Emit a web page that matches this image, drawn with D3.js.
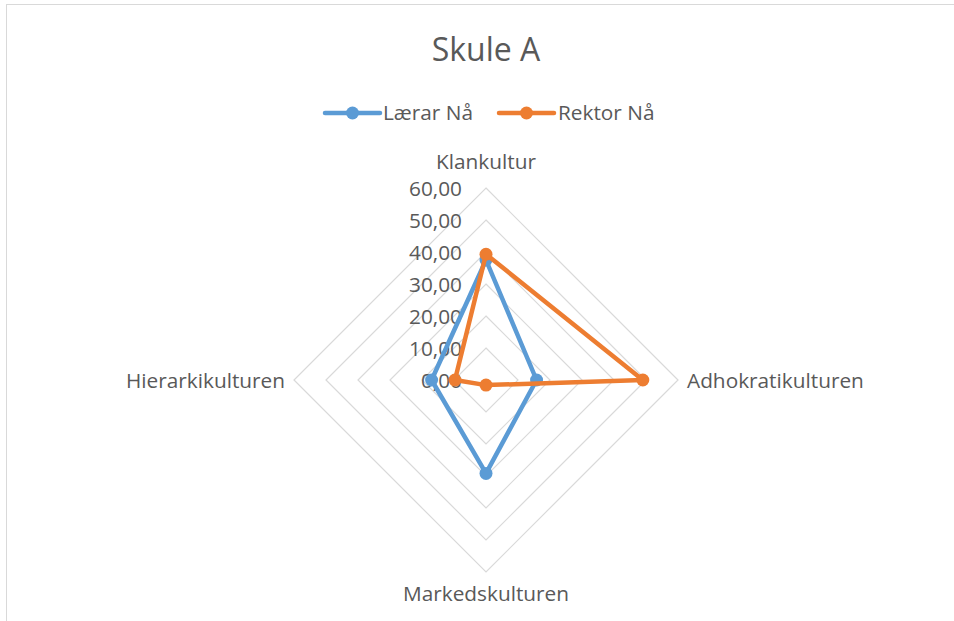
<!DOCTYPE html>
<html>
<head>
<meta charset="utf-8">
<script src="https://cdn.jsdelivr.net/npm/d3@7"></script>
<style>
  html, body { margin: 0; padding: 0; background: #fff; }
  svg { display: block; }
  text { font-family: "Open Sans", "Noto Sans", sans-serif; fill: #595959; }
</style>
</head>
<body>
<svg id="chart" width="954" height="621"></svg>
<script>
const title = "Skule A";
const categories = ["Klankultur", "Adhokratikulturen", "Markedskulturen", "Hierarkikulturen"];
const seriesNames = ["Lærar Nå", "Rektor Nå"];
const laerarValues = [37.5, 15.8, 29.2, 17.0];
const rektorValues = [39.3, 49.0, 1.6, 9.7];
const tickValues = [0, 10, 20, 30, 40, 50, 60];
const tickLabels = ["0,00", "10,00", "20,00", "30,00", "40,00", "50,00", "60,00"];
const colors = ["#5B9BD5", "#ED7D31"];

const W = 954, H = 621;
const cx = 486, cy = 380, R = 192;
const fs = "20.8px";
const svg = d3.select("#chart");

// chart area border
svg.append("rect").attr("x", 6.5).attr("y", 4.5).attr("width", 960).attr("height", 640)
  .attr("fill", "#fff").attr("stroke", "#d9d9d9").attr("stroke-width", 1);

// title
svg.append("text").attr("x", cx).attr("y", 61).attr("text-anchor", "middle")
  .style("font-size", "32px").text(title);

const r = d3.scaleLinear().domain([0, 60]).range([0, R]);
const angle = d3.scaleLinear().domain([0, categories.length]).range([0, 2 * Math.PI]);

const g = svg.append("g").attr("transform", `translate(${cx},${cy})`);

// grid rings
const ringLine = d3.lineRadial().curve(d3.curveLinearClosed);
tickValues.filter(v => v > 0).forEach(v => {
  g.append("path")
    .attr("d", ringLine(categories.map((c, i) => [angle(i), r(v)])))
    .attr("fill", "none").attr("stroke", "#d9d9d9").attr("stroke-width", 1.2);
});

// tick labels
tickValues.forEach((v, i) => {
  g.append("text").attr("x", -24).attr("y", -r(v)).attr("dy", "0.36em")
    .attr("text-anchor", "end").style("font-size", fs).text(tickLabels[i]);
});

// category labels
const labelPos = [
  { x: 0, y: -211, anchor: "middle", dy: "0" },
  { x: 201, y: 0, anchor: "start", dy: "0.36em" },
  { x: 0, y: 221, anchor: "middle", dy: "0" },
  { x: -201, y: 0, anchor: "end", dy: "0.36em" }
];
categories.forEach((c, i) => {
  g.append("text").attr("x", labelPos[i].x).attr("y", labelPos[i].y).attr("dy", labelPos[i].dy)
    .attr("text-anchor", labelPos[i].anchor).style("font-size", fs).text(c);
});

// series
const allSeries = [laerarValues, rektorValues];
const line = d3.lineRadial().curve(d3.curveLinearClosed);
allSeries.forEach((vals, s) => {
  const pts = vals.map((v, i) => [angle(i), r(v)]);
  g.append("path").attr("d", line(pts)).attr("fill", "none")
    .attr("stroke", colors[s]).attr("stroke-width", 4.5).attr("stroke-linejoin", "round");
  g.selectAll(null).data(vals).enter().append("circle")
    .attr("cx", (v, i) => r(v) * Math.sin(angle(i)))
    .attr("cy", (v, i) => -r(v) * Math.cos(angle(i)))
    .attr("r", 6.5).attr("fill", colors[s]);
});

// legend
const legendItems = [
  { x1: 325, x2: 380, tx: 383 },
  { x1: 499, x2: 554, tx: 558 }
];
const ly = 113;
seriesNames.forEach((n, s) => {
  const it = legendItems[s];
  svg.append("line").attr("x1", it.x1).attr("x2", it.x2).attr("y1", ly).attr("y2", ly)
    .attr("stroke", colors[s]).attr("stroke-width", 4.5).attr("stroke-linecap", "round");
  svg.append("circle").attr("cx", (it.x1 + it.x2) / 2).attr("cy", ly).attr("r", 6.5).attr("fill", colors[s]);
  svg.append("text").attr("x", it.tx).attr("y", ly).attr("dy", "0.36em")
    .style("font-size", fs).text(n);
});
</script>
</body>
</html>
